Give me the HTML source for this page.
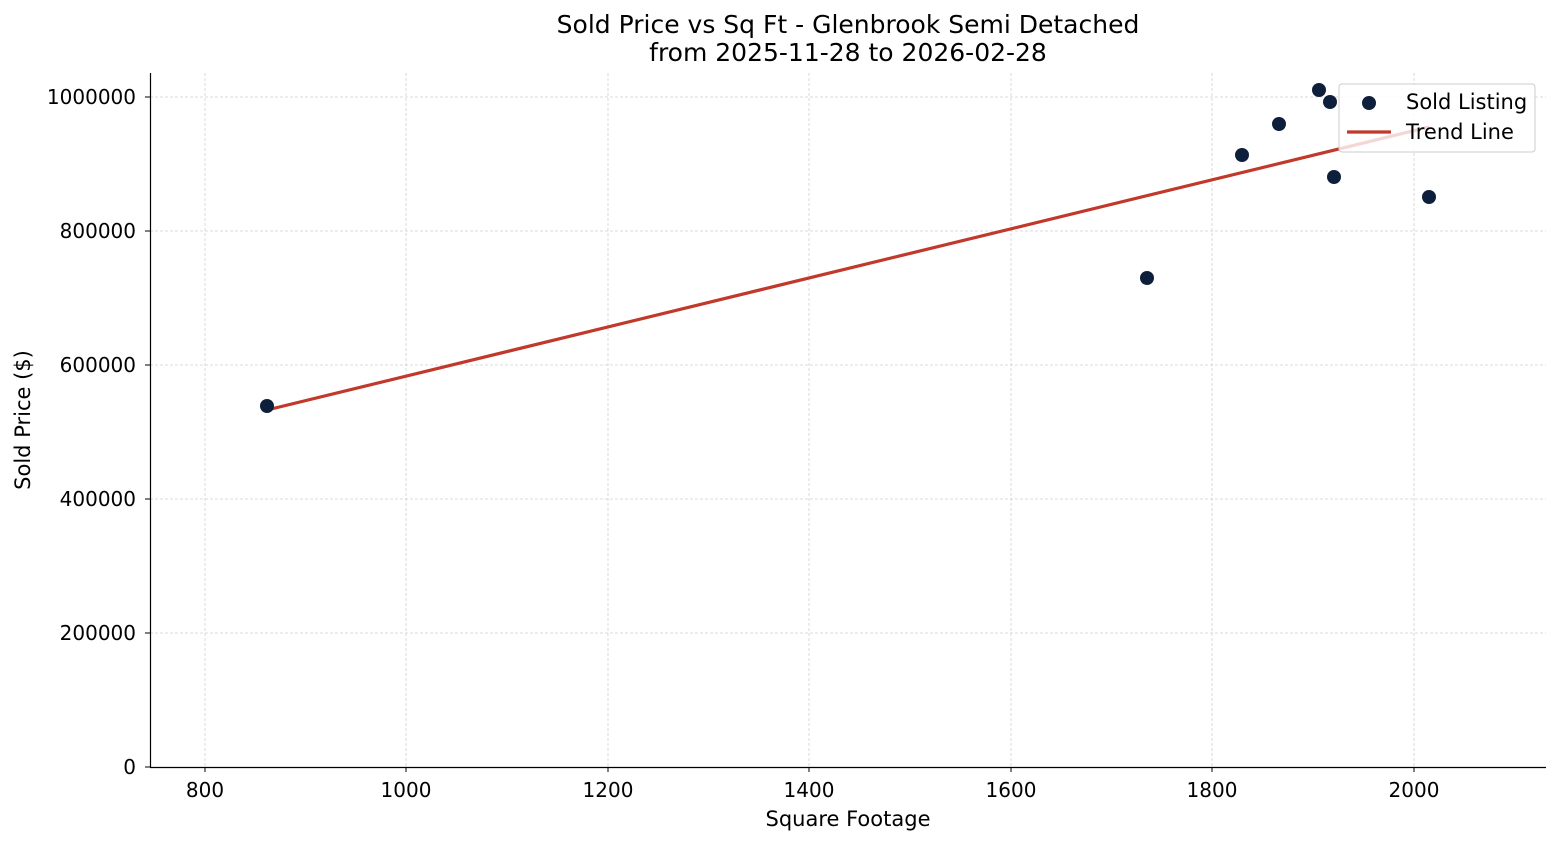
<!DOCTYPE html>
<html><head><meta charset="utf-8"><style>
body{margin:0;background:#fff;}
svg text{font-family:"DejaVu Sans","Liberation Sans",sans-serif;fill:#000;}
</style></head><body>
<svg width="1560" height="845" xmlns="http://www.w3.org/2000/svg">
<rect width="1560" height="845" fill="#fff"/>
<g stroke="#d0d0d0" stroke-width="0.8" stroke-dasharray="3,2">
<line x1="205" y1="73" x2="205" y2="767"/>
<line x1="406" y1="73" x2="406" y2="767"/>
<line x1="608" y1="73" x2="608" y2="767"/>
<line x1="809" y1="73" x2="809" y2="767"/>
<line x1="1011" y1="73" x2="1011" y2="767"/>
<line x1="1212" y1="73" x2="1212" y2="767"/>
<line x1="1414" y1="73" x2="1414" y2="767"/>
<line x1="150" y1="97" x2="1546" y2="97"/>
<line x1="150" y1="231" x2="1546" y2="231"/>
<line x1="150" y1="365" x2="1546" y2="365"/>
<line x1="150" y1="499" x2="1546" y2="499"/>
<line x1="150" y1="633" x2="1546" y2="633"/>
</g>
<line x1="150.5" y1="73" x2="150.5" y2="767" stroke="#000" stroke-width="1.2"/>
<line x1="150" y1="767.5" x2="1546" y2="767.5" stroke="#000" stroke-width="1.2"/>
<g stroke="#000" stroke-width="1">
<line x1="205" y1="767" x2="205" y2="772"/><line x1="406" y1="767" x2="406" y2="772"/><line x1="608" y1="767" x2="608" y2="772"/><line x1="809" y1="767" x2="809" y2="772"/><line x1="1011" y1="767" x2="1011" y2="772"/><line x1="1212" y1="767" x2="1212" y2="772"/><line x1="1414" y1="767" x2="1414" y2="772"/>
<line x1="145" y1="97" x2="150" y2="97"/><line x1="145" y1="231" x2="150" y2="231"/><line x1="145" y1="365" x2="150" y2="365"/><line x1="145" y1="499" x2="150" y2="499"/><line x1="145" y1="633" x2="150" y2="633"/><line x1="145" y1="767" x2="150" y2="767"/>
</g>
<g font-size="20" text-anchor="middle">
<text x="205" y="797">800</text><text x="406" y="797">1000</text><text x="608" y="797">1200</text><text x="809" y="797">1400</text><text x="1011" y="797">1600</text><text x="1212" y="797">1800</text><text x="1414" y="797">2000</text>
</g>
<g font-size="20" text-anchor="end">
<text x="136" y="104">1000000</text><text x="136" y="238">800000</text><text x="136" y="372">600000</text><text x="136" y="506">400000</text><text x="136" y="640">200000</text><text x="136" y="774">0</text>
</g>
<text x="848" y="826" font-size="21" text-anchor="middle">Square Footage</text>
<text transform="translate(30,420) rotate(-90)" font-size="21" text-anchor="middle">Sold Price ($)</text>
<text x="848" y="33" font-size="25" text-anchor="middle">Sold Price vs Sq Ft - Glenbrook Semi Detached</text>
<text x="848" y="61" font-size="25" text-anchor="middle">from 2025-11-28 to 2026-02-28</text>
<line x1="267" y1="410" x2="1429" y2="127" stroke="#c0392b" stroke-width="3.2"/>
<g fill="#0d1f3a">
<circle cx="267" cy="406" r="7"/><circle cx="1147" cy="278" r="7"/><circle cx="1242" cy="155" r="7"/><circle cx="1279" cy="124" r="7"/><circle cx="1319" cy="90" r="7"/><circle cx="1330" cy="102" r="7"/><circle cx="1334" cy="177" r="7"/><circle cx="1429" cy="197" r="7"/>
</g>
<rect x="1339" y="84" width="196" height="68" rx="3" fill="#fff" fill-opacity="0.8" stroke="#ccc" stroke-width="1"/>
<circle cx="1369" cy="103" r="7" fill="#0d1f3a"/>
<line x1="1347" y1="132" x2="1391" y2="132" stroke="#c0392b" stroke-width="3.2"/>
<text x="1406" y="109" font-size="21">Sold Listing</text>
<text x="1406" y="139" font-size="21">Trend Line</text>
</svg>
</body></html>
